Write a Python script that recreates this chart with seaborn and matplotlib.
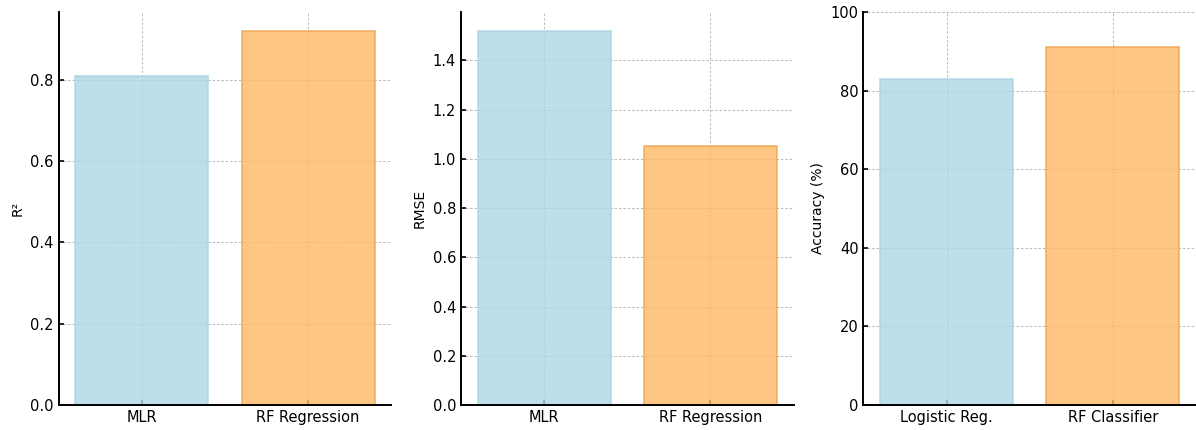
import pandas as pd
import matplotlib.pyplot as plt
import seaborn as sns

# データ
reg_models = ['MLR', 'RF Regression']
r2_values = [0.81, 0.92]
rmse_values = [1.52, 1.05]
clf_models = ['Logistic Reg.', 'RF Classifier']
acc_values = [83, 91]

fill_colors = ['#ADD8E6', '#FDB863']
edge_colors = ['#A9D3E0', '#EDA24E']

sns.set_style('ticks')
plt.rcParams['font.family'] = ['DejaVu Sans']
for key in ['text.color', 'axes.labelcolor', 'xtick.color', 'ytick.color', 'axes.edgecolor']:
    plt.rcParams[key] = 'black'

fig, axes = plt.subplots(1, 3, figsize=(11.96, 4.3))

panels = [
    (reg_models, r2_values, 'R²', None),
    (reg_models, rmse_values, 'RMSE', None),
    (clf_models, acc_values, 'Accuracy (%)', (0, 100)),
]

for ax, (models, values, label, ylim) in zip(axes, panels):
    df = pd.DataFrame({'model': models, 'value': values})
    sns.barplot(data=df, x='model', y='value', hue='model', palette=fill_colors,
                ax=ax, width=0.8, alpha=0.8, saturation=1, legend=False, zorder=2)
    for patch, ec in zip(ax.patches, edge_colors):
        patch.set_edgecolor(ec)
        patch.set_linewidth(1.2)
    ax.set_xlim(-0.5, 1.5)
    if ylim:
        ax.set_ylim(*ylim)
    else:
        ax.set_ylim(0, max(values) * 1.05)
    ax.set_xlabel('')
    ax.set_ylabel(label, fontsize=10)
    ax.grid(True, linestyle=(0, (2.5, 2)), linewidth=0.7, color='#999999', alpha=0.7, zorder=0)
    ax.set_axisbelow(True)
    ax.tick_params(direction='in', labelsize=10.5, width=1.2)
    sns.despine(ax=ax)
    for side in ['left', 'bottom']:
        ax.spines[side].set_linewidth(1.4)

plt.subplots_adjust(left=0.049, right=1.0, top=0.972, bottom=0.058, wspace=0.21)
plt.savefig('out.png', dpi=100)
